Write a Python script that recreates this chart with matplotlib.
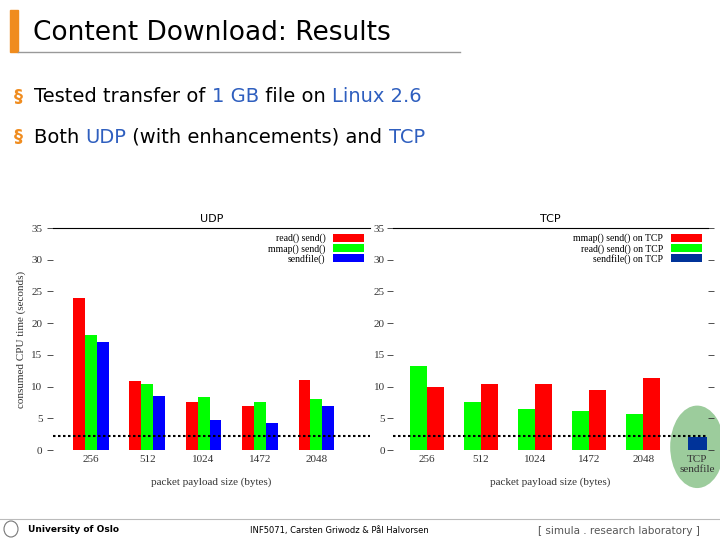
import matplotlib
matplotlib.use("Agg")
import matplotlib.pyplot as plt
from matplotlib.patches import Rectangle, Ellipse
import numpy as np

sizes = ["256", "512", "1024", "1472", "2048"]
udp_read_send = [24.0, 10.8, 7.5, 7.0, 11.0]
udp_mmap_send = [18.2, 10.4, 8.3, 7.5, 8.0]
udp_sendfile = [17.0, 8.5, 4.8, 4.2, 7.0]
tcp_read_send = [13.2, 7.6, 6.4, 6.1, 5.6]
tcp_mmap_send = [9.9, 10.4, 10.4, 9.4, 11.3]
tcp_sendfile = [2.0]
baseline = 2.2

RED, GREEN, BLUE, NAVY = "#ff0000", "#00ff00", "#0000ff", "#003399"
ORANGE = "#f08c1e"
HL = "#2f5fbf"

fig = plt.figure(figsize=(7.2, 5.4), dpi=100)
fig.patch.set_facecolor("white")

# ---- slide chrome ----
fig.add_artist(Rectangle((10/720, 1-52/540), 8/720, 42/540, transform=fig.transFigure, color=ORANGE))
fig.add_artist(plt.Line2D([18/720, 460/720], [1-52/540, 1-52/540], color="#999999", lw=1))
fig.text(33/720, 1-33/540, "Content Download: Results", fontsize=19, va="center", family="DejaVu Sans")

def colored_line(x, y, parts, fs=14):
    r = fig.canvas.get_renderer()
    for s, c in parts:
        t = fig.text(x, y, s, color=c, fontsize=fs, va="center", family="DejaVu Sans")
        bb = t.get_window_extent(renderer=r)
        x += bb.width / fig.bbox.width

for yy, parts in [(97, [("Tested transfer of ", "black"), ("1 GB", HL), (" file on ", "black"), ("Linux 2.6", HL)]),
                  (137, [("Both ", "black"), ("UDP", HL), (" (with enhancements) and ", "black"), ("TCP", HL)])]:
    fig.text(14/720, 1-yy/540, "§", color=ORANGE, fontsize=13, va="center", fontweight="bold")
    colored_line(34/720, 1-yy/540, parts)

fig.add_artist(plt.Line2D([0, 1], [1-519/540]*2, color="#bbbbbb", lw=0.8))
fig.text(28/720, 1-529/540, "University of Oslo", fontsize=6.5, va="center", fontweight="bold")
fig.text(250/720, 1-531/540, "INF5071, Carsten Griwodz & Pål Halvorsen", fontsize=6, va="center")
fig.text(538/720, 1-531/540, "[ simula . research laboratory ]", fontsize=7.5, va="center", color="#555555")
fig.add_artist(Ellipse((11/720, 1-529/540), 14/720, 16/540, transform=fig.transFigure, fc="none", ec="#777777", lw=0.8))

serif = "Liberation Serif"

def style(ax, xlim, right=True):
    ax.set_ylim(0, 35)
    ax.set_xlim(*xlim)
    for s in ["left", "right", "bottom"]:
        ax.spines[s].set_visible(False)
    ax.spines["top"].set_linewidth(0.8)
    ax.set_yticks(range(0, 36, 5))
    ax.tick_params(axis="y", left=True, right=right, direction="out", length=4, width=0.6,
                   labelsize=8, labelcolor="#333333", colors="#333333")
    ax.tick_params(axis="x", length=0, labelsize=8, labelcolor="#333333")
    for lab in ax.get_yticklabels() + ax.get_xticklabels():
        lab.set_family(serif)
    ax.set_xlabel("packet payload size (bytes)", family=serif, fontsize=8, color="#333333")
    ax.xaxis.set_label_coords(0.5, -0.125)

# UDP
ax1 = fig.add_axes([53/720, 90/540, 317/720, 222/540])
x = np.arange(len(sizes))
w = 0.21
ax1.bar(x - w, udp_read_send, w, color=RED, label="read() send()")
ax1.bar(x, udp_mmap_send, w, color=GREEN, label="mmap() send()")
ax1.bar(x + w, udp_sendfile, w, color=BLUE, label="sendfile()")
ax1.set_xticks(x, sizes)
style(ax1, (-0.67, 4.95), right=False)
ax1.axhline(baseline, color="black", ls=(0, (1.2, 1.2)), lw=1.5)
ax1.set_ylabel("consumed CPU time (seconds)", family=serif, fontsize=8, color="#333333")
ax1.set_title("UDP", fontsize=8, pad=4)
ax1.legend(loc="upper right", frameon=False, markerfirst=False, prop={"family": serif, "size": 7},
           handlelength=3.2, handleheight=0.9, labelspacing=0.05, borderaxespad=0.2)

# TCP
ax2 = fig.add_axes([393/720, 90/540, 315/720, 222/540])
ax2.add_patch(Ellipse((5, 0.5), 1.0, 13, fc="#9ccc9c", ec="none", zorder=0, clip_on=False))
w2 = 0.31
ax2.bar(x - w2/2, tcp_read_send, w2, color=GREEN, label="read() send() on TCP", zorder=2)
ax2.bar(x + w2/2, tcp_mmap_send, w2, color=RED, label="mmap() send() on TCP", zorder=2)
ax2.bar([5], tcp_sendfile, 0.35, color=NAVY, label="sendfile() on TCP", zorder=2)
ax2.set_xticks(list(x) + [5], sizes + ["TCP\nsendfile"])
style(ax2, (-0.63, 5.2))
ax2.tick_params(axis="y", pad=2)
ax2.axhline(baseline, color="black", ls=(0, (1.2, 1.2)), lw=1.5, zorder=3)
ax2.set_title("TCP", fontsize=8, pad=4)
h, l = ax2.get_legend_handles_labels()
ax2.legend([h[1], h[0], h[2]], [l[1], l[0], l[2]], loc="upper right", frameon=False, markerfirst=False,
           prop={"family": serif, "size": 7}, handlelength=3.2, handleheight=0.9, labelspacing=0.05,
           borderaxespad=0.2)

fig.savefig("out.png", dpi=100)
